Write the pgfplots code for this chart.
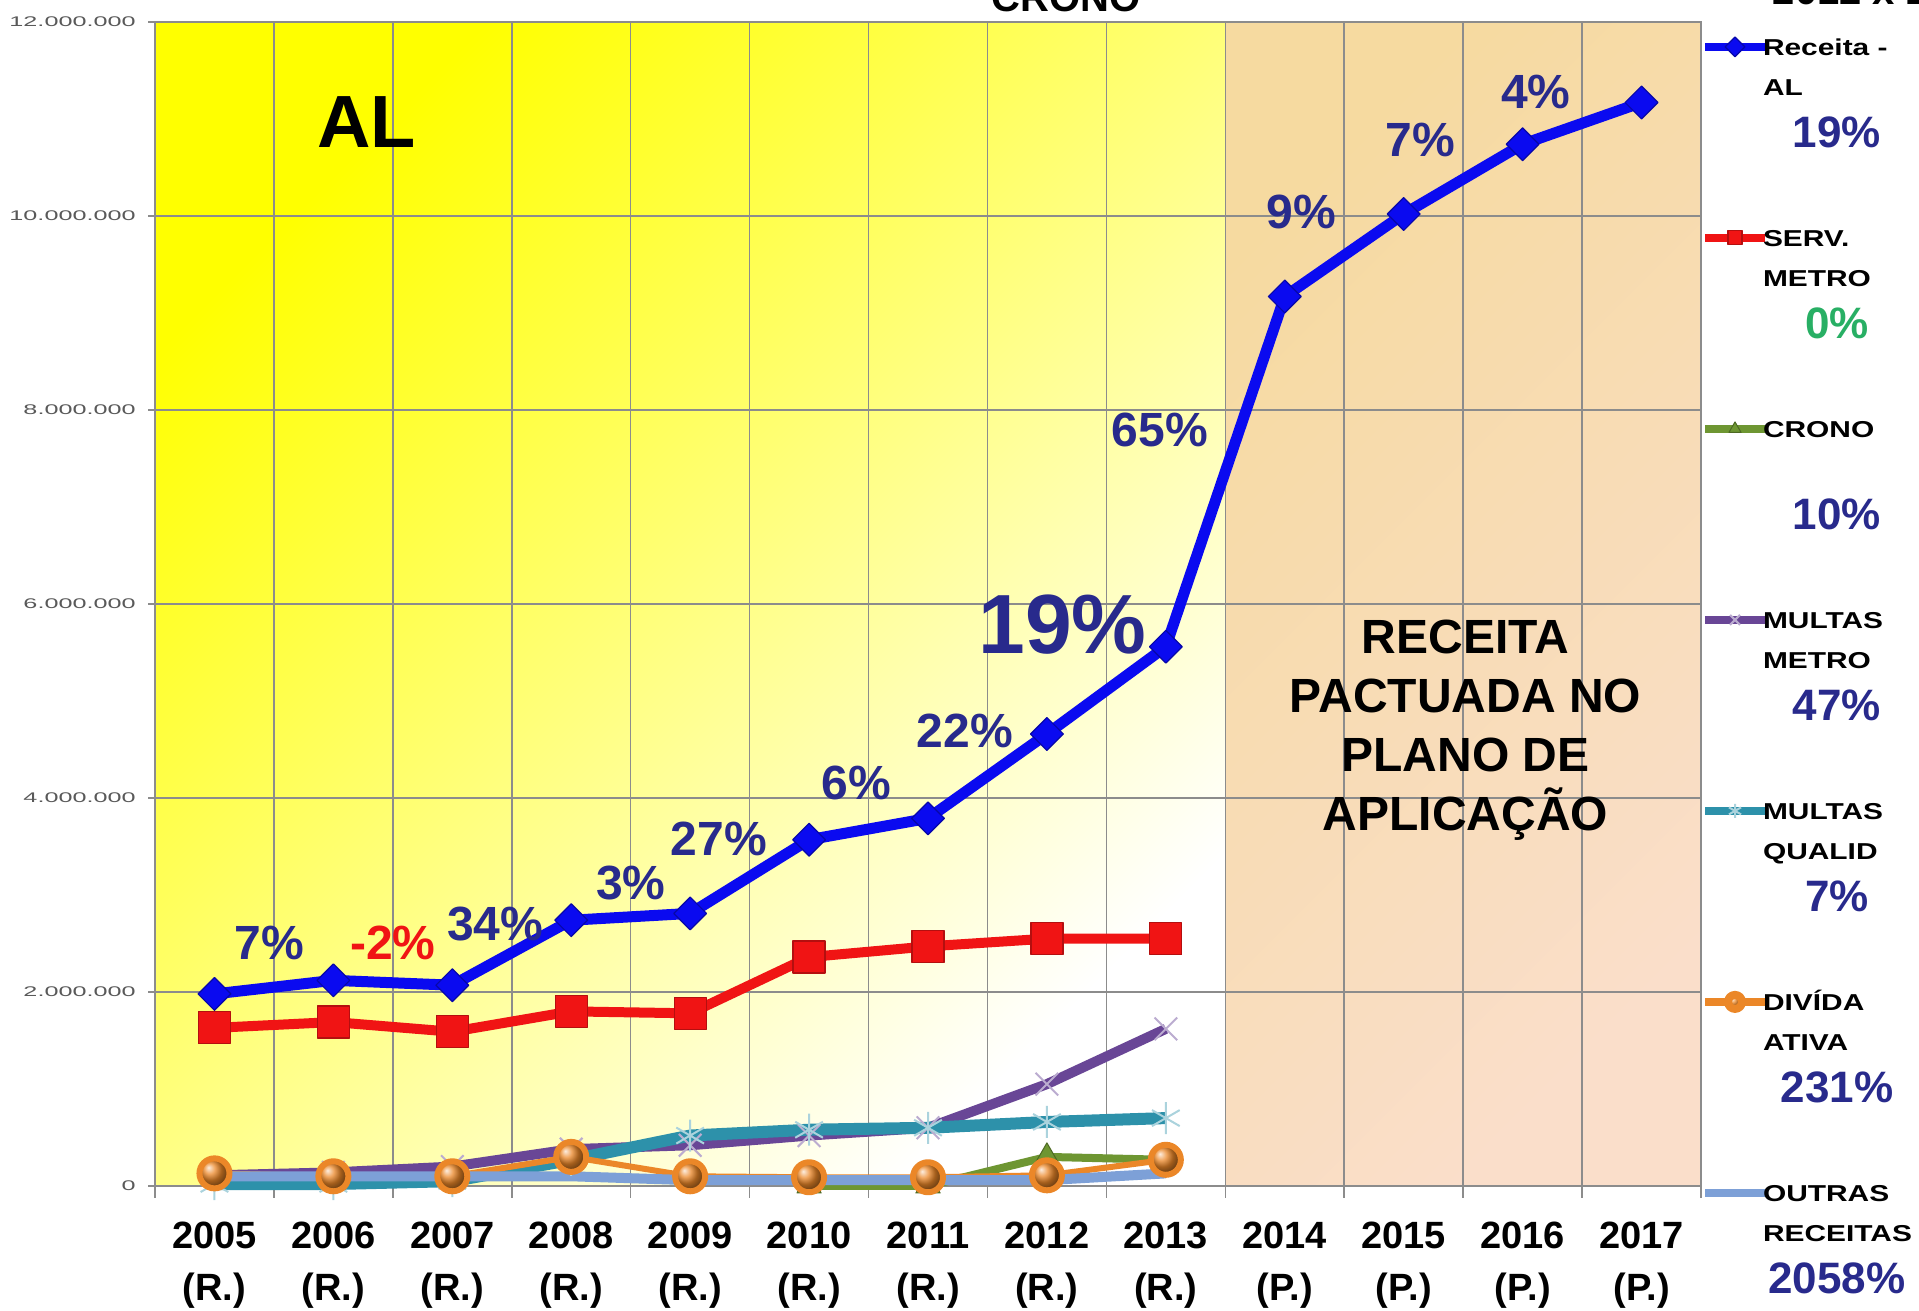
\documentclass[border=0pt]{standalone}
\usepackage{pgfplots}
\pgfplotsset{compat=1.18}
\usepackage{fontspec}
\setmainfont{Liberation Sans}
\newfontfamily\tickfont[FakeStretch=1.8]{Liberation Sans}
\newfontfamily\lgfont[FakeStretch=1.3]{Liberation Sans}
\usetikzlibrary{calc}
\definecolor{cblue}{RGB}{10,10,240}
\definecolor{cred}{RGB}{240,20,20}
\definecolor{cgreen}{RGB}{110,150,50}
\definecolor{cpurple}{RGB}{105,70,150}
\definecolor{cteal}{RGB}{45,145,170}
\definecolor{corange}{RGB}{235,135,40}
\definecolor{coutras}{RGB}{125,160,215}
\definecolor{navy}{RGB}{40,42,140}
\definecolor{pgreen}{RGB}{40,175,100}
\definecolor{gridc}{RGB}{140,140,140}
\definecolor{peachA}{RGB}{246,218,160}
\definecolor{peachB}{RGB}{248,218,190}
\definecolor{peachC}{RGB}{250,222,202}

\newcommand\lgd[4]{\hspace*{-5pt}\smash{\vtop{\baselineskip=20pt\lineskiplimit=-100pt\lineskip=0pt
 \hbox{\lgfont\bfseries\fontsize{11.5}{12}\selectfont #1}
 \hbox{\lgfont\bfseries\fontsize{11.5}{12}\selectfont #2}
 \baselineskip=26pt
 \hbox to 74pt{\hss\bfseries\fontsize{22}{24}\selectfont\color{#4}#3\hss}}}\rule[-10pt]{0pt}{20pt}}

\newcommand\pct[1]{\bfseries\fontsize{#1}{#1}\selectfont}

\begin{document}
\begin{tikzpicture}
\begin{axis}[
 name=ax,
 set layers,
 scale only axis,
 width=773pt, height=582pt,
 xmin=-0.5, xmax=12.5, ymin=0, ymax=12000000,
 clip=false,
 axis line style={gridc, line width=0.8pt},
 xtick={0,...,12},
 xticklabels={{2005\\(R.)},{2006\\(R.)},{2007\\(R.)},{2008\\(R.)},{2009\\(R.)},{2010\\(R.)},{2011\\(R.)},{2012\\(R.)},{2013\\(R.)},{2014\\(P.)},{2015\\(P.)},{2016\\(P.)},{2017\\(P.)}},
 minor xtick={-0.5,0.5,...,12.5},
 xminorgrids=true, ymajorgrids=true,
 major x tick style={draw=none},
 minor x tick style={gridc, line width=0.8pt},
 minor tick length=6pt,
 major tick length=3.5pt,
 tick align=outside,
 xtick pos=bottom, ytick pos=left,
 ytick style={gridc, line width=0.8pt},
 grid style={gridc, line width=0.8pt},
 minor grid style={gridc, line width=0.8pt},
 ytick={0,2000000,...,12000000},
 scaled y ticks=false,
 yticklabel style={/pgf/number format/fixed, /pgf/number format/1000 sep={.}, /pgf/number format/assume math mode=true,
   font=\tickfont\fontsize{7}{8}\selectfont, text=black!65, inner sep=0pt, xshift=-6pt},
 xticklabel style={align=center, font=\bfseries\fontsize{19}{26}\selectfont, inner sep=0pt},
 xticklabel shift=14.5pt,
 legend style={at={(1,1)}, anchor=north west, yshift=-4.7pt, draw=none, fill=none, inner sep=0pt, outer sep=0pt,
   row sep=80pt, font=\fontsize{10}{12}\selectfont,
   /tikz/every even column/.append style={column sep=0pt}},
 legend cell align=left,
 legend image code/.code={\draw[mark repeat=2,mark phase=2,#1, mark size=3.5pt, line width=4pt] plot coordinates {(0pt,0pt) (15pt,0pt) (30pt,0pt)};},
]
\begin{pgfonlayer}{axis background}
\shade[shading=axis, top color=yellow, middle color=yellow!40, bottom color=white, shading angle=45]
  (axis cs:-0.5,0) rectangle (axis cs:8.5,12000000);
\shade[shading=axis, top color=peachA, middle color=peachB, bottom color=peachC, shading angle=45]
  (axis cs:8.5,0) rectangle (axis cs:12.5,12000000);
\end{pgfonlayer}

% Receita - AL
\addplot[cblue, line width=5.5pt, line join=round, mark=square*, mark size=5.8pt,
  mark options={rotate=45, fill=cblue, draw=cblue!70!black, line width=0.6pt}]
 coordinates {(0,1980000) (1,2120000) (2,2070000) (3,2740000) (4,2810000) (5,3570000) (6,3790000) (7,4660000) (8,5560000) (9,9170000) (10,10020000) (11,10740000) (12,11170000)};
\addlegendentry{\lgd{Receita -}{AL}{19\%}{navy}}
% SERV. METRO
\addplot[cred, line width=5pt, line join=round, mark=square*, mark size=8pt,
  mark options={fill=cred, draw=cred!75!black, line width=0.6pt}]
 coordinates {(0,1630000) (1,1690000) (2,1590000) (3,1800000) (4,1780000) (5,2360000) (6,2470000) (7,2550000) (8,2550000)};
\addlegendentry{\lgd{SERV.}{METRO}{0\%}{pgreen}}
% CRONO
\addplot[cgreen, line width=4pt, line join=round, mark=triangle*, mark size=7pt,
  mark options={fill=cgreen, draw=cgreen!70!black, line width=0.5pt}]
 coordinates {(5,0) (6,0) (7,300000) (8,270000)};
\addlegendentry{\lgd{CRONO}{}{10\%}{navy}}
% MULTAS METRO
\addplot[cpurple, line width=5pt, line join=round, mark=x, mark size=8pt,
  mark options={draw=cpurple!45!white, line width=1pt}]
 coordinates {(0,110000) (1,140000) (2,200000) (3,380000) (4,420000) (5,520000) (6,600000) (7,1050000) (8,1620000)};
\addlegendentry{\lgd{MULTAS}{METRO}{47\%}{navy}}
% MULTAS QUALID
\addplot[cteal, line width=6pt, line join=round, mark=asterisk, mark size=8pt,
  mark options={draw=cteal!40!white, line width=1pt}]
 coordinates {(0,20000) (1,20000) (2,50000) (3,270000) (4,520000) (5,580000) (6,600000) (7,660000) (8,700000)};
\addlegendentry{\lgd{MULTAS}{QUALID}{7\%}{navy}}
% DIVIDA ATIVA
\addplot[corange, line width=3pt, line join=round, mark=ball, mark size=7.5pt,
  mark options={ball color=corange}]
 coordinates {(0,130000) (1,100000) (2,100000) (3,300000) (4,100000) (5,90000) (6,90000) (7,110000) (8,270000)};
\addlegendentry{\lgd{DIVÍDA}{ATIVA}{231\%}{navy}}
% OUTRAS RECEITAS
\addplot[coutras, line width=5pt, line join=round]
 coordinates {(0,100000) (1,100000) (2,100000) (3,100000) (4,60000) (5,60000) (6,60000) (7,60000) (8,130000)};
\addlegendentry{\lgd{OUTRAS}{RECEITAS}{2058\%}{navy}}

% annotations
\node[text=navy, font=\pct{24}] at (axis cs:0.46,2510000) {7\%};
\node[text=cred, font=\pct{24}] at (axis cs:1.50,2510000) {-2\%};
\node[text=navy, font=\pct{24}] at (axis cs:2.36,2700000) {34\%};
\node[text=navy, font=\pct{24}] at (axis cs:3.50,3120000) {3\%};
\node[text=navy, font=\pct{24}] at (axis cs:4.24,3580000) {27\%};
\node[text=navy, font=\pct{24}] at (axis cs:5.40,4150000) {6\%};
\node[text=navy, font=\pct{24}] at (axis cs:6.31,4690000) {22\%};
\node[text=navy, font=\pct{42}] at (axis cs:7.13,5790000) {19\%};
\node[text=navy, font=\pct{24}] at (axis cs:7.95,7790000) {65\%};
\node[text=navy, font=\pct{24}] at (axis cs:9.14,10040000) {9\%};
\node[text=navy, font=\pct{24}] at (axis cs:10.14,10780000) {7\%};
\node[text=navy, font=\pct{24}] at (axis cs:11.11,11280000) {4\%};
\node[text=black, font=\pct{37}] at (axis cs:1.28,10970000) {AL};
\node[text=black, align=center, font=\bfseries\fontsize{24}{29.4}\selectfont] at (axis cs:10.52,4700000)
  {RECEITA\\PACTUADA NO\\PLANO DE\\APLICAÇÃO};
\node[anchor=south, font=\bfseries\fontsize{20}{24}\selectfont, inner sep=0pt] at ($(axis cs:6.66,12000000)+(0,5pt)$) {CRONO};
\node[anchor=south, font=\bfseries\fontsize{20}{24}\selectfont, inner sep=0pt] at ($(axis cs:13.54,12000000)+(0,8.5pt)$) {2012 x 2013};
\end{axis}
\pgfresetboundingbox
\path[use as bounding box] ($(ax.south west)+(-77.5pt,-62.5pt)$) rectangle ($(ax.north east)+(109pt,11pt)$);
\end{tikzpicture}
\end{document}
